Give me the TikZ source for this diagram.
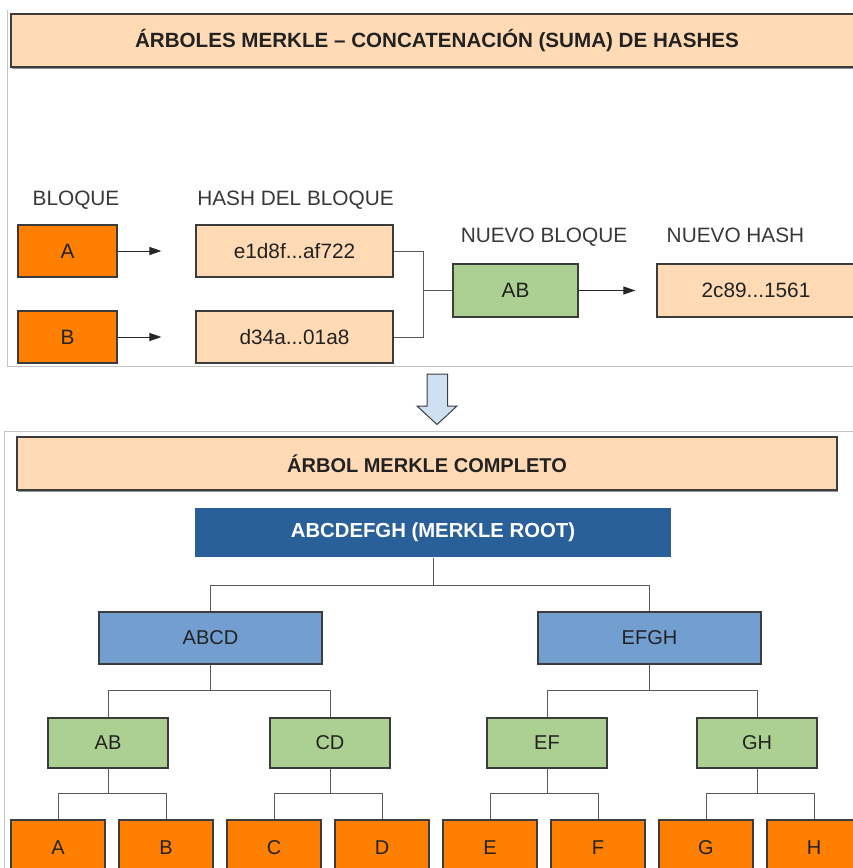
\documentclass[tikz,border=0pt]{standalone}
\usepackage{fontspec}
\setmainfont{Liberation Sans}
\usetikzlibrary{arrows.meta,shadows}
\definecolor{orangeC}{HTML}{FF8000}
\definecolor{peachC}{HTML}{FFDAB4}
\definecolor{greenC}{HTML}{ABD092}
\definecolor{rootC}{HTML}{2A6099}
\definecolor{midblueC}{HTML}{729FCF}
\definecolor{arrowC}{HTML}{CFE0F2}
\definecolor{borderC}{HTML}{3C3C3C}
\definecolor{lineC}{HTML}{5A5A5A}
\definecolor{panelC}{HTML}{C4C4C4}
\definecolor{txtC}{HTML}{222222}
\tikzset{
  box/.style={draw=borderC, line width=1.2pt, minimum height=52pt, inner sep=0pt,
              text=txtC, font=\fontsize{20.8}{24}\selectfont},
  lowbox/.style={box, font=\fontsize{20}{24}\selectfont},
  titlebox/.style={box, fill=peachC, minimum height=53pt,
                   drop shadow={shadow xshift=1pt, shadow yshift=-1.5pt, opacity=0.6, fill=black!70}},
  leaf/.style={lowbox, fill=orangeC, minimum width=94pt, minimum height=56pt},
  blk/.style={box, fill=orangeC, minimum width=99pt},
  hashbox/.style={box, fill=peachC, minimum width=197pt},
  grn/.style={lowbox, fill=greenC, minimum width=120pt, minimum height=50pt},
  half/.style={lowbox, fill=midblueC, minimum width=223pt},
  rootbox/.style={box, draw=none, fill=rootC, text=white, minimum width=476pt, minimum height=49pt,
                  font=\bfseries\fontsize{20.3}{24}\selectfont},
  lbl/.style={inner sep=0pt, anchor=base, text=txtC!90, font=\fontsize{20.8}{24}\selectfont},
  conn/.style={draw=lineC, line width=1pt},
  arr/.style={draw=black!85, line width=1pt, -{Triangle[length=12pt,width=8pt]}},
}
\begin{document}
\begin{tikzpicture}[x=1pt,y=-1pt]
\useasboundingbox (0,0) rectangle (853,868);
\clip (0,0) rectangle (853,868);
% panels
\draw[panelC, line width=1pt] (7,10) -- (7,366) -- (860,366);
\draw[panelC, line width=1pt] (4,875) -- (4,431) -- (860,431);
% top part
\node[titlebox, minimum width=852pt, font=\bfseries\fontsize{20.6}{24}\selectfont] (t1) at (437,40.5) {ÁRBOLES MERKLE – CONCATENACIÓN (SUMA) DE HASHES};
\node[lbl] (lb1) at (76,205) {BLOQUE};
\node[lbl] (lb2) at (295.5,205) {HASH DEL BLOQUE};
\node[lbl] (lb3) at (544,242.5) {NUEVO BLOQUE};
\node[lbl] (lb4) at (735.5,242.5) {NUEVO HASH};
\node[blk] (A) at (67.5,251) {A};
\node[blk] (B) at (67.5,337) {B};
\node[hashbox] (hA) at (294.5,251) {e1d8f...af722};
\node[hashbox] (hB) at (294.5,337) {d34a...01a8};
\node[box, fill=greenC, minimum width=125pt, minimum height=53pt] (nAB) at (515.5,290.5) {AB};
\node[box, fill=peachC, minimum width=198pt, minimum height=53pt] (nH) at (756,290.5) {2c89...1561};
\draw[arr, shorten >=34pt] (A) -- (hA);
\draw[arr, shorten >=34pt] (B) -- (hB);
\draw[arr, shorten >=21pt] (nAB) -- (nH);
\draw[conn] (hA.east) -- ++(30,0) |- (nAB.west);
\draw[conn] (hB.east) -- ++(30,0) |- (nAB.west);
% down arrow
\draw[fill=arrowC, draw=borderC, line width=1pt, line join=miter]
  (427,374) -- (447.5,374) -- (447.5,406) -- (457,406) -- (437,424.5) -- (417,406) -- (427,406) -- cycle;
% bottom part
\node[titlebox, minimum width=820pt, font=\bfseries\fontsize{20}{24}\selectfont] (t2) at (427,463.5) {ÁRBOL MERKLE COMPLETO};
\node[rootbox] (root) at (433,532.5) {ABCDEFGH (MERKLE ROOT)};
\node[half] (abcd) at (210.5,638) {ABCD};
\node[half] (efgh) at (649.5,638) {EFGH};
\node[grn] (ab) at (108,743) {AB};
\node[grn] (cd) at (330,743) {CD};
\node[grn] (ef) at (547,743) {EF};
\node[grn] (gh) at (757,743) {GH};
\node[leaf] (la) at (58,848) {A};
\node[leaf] (lb) at (166,848) {B};
\node[leaf] (lc) at (274,848) {C};
\node[leaf] (ld) at (382,848) {D};
\node[leaf] (le) at (490,848) {E};
\node[leaf] (lf) at (598,848) {F};
\node[leaf] (lg) at (706,848) {G};
\node[leaf] (lh) at (814,848) {H};
\draw[conn] (root.south) -- ++(0,28) -| (abcd.north);
\draw[conn] (root.south) -- ++(0,28) -| (efgh.north);
\draw[conn] (abcd.south) -- ++(0,26) -| (ab.north);
\draw[conn] (abcd.south) -- ++(0,26) -| (cd.north);
\draw[conn] (efgh.south) -- ++(0,26) -| (ef.north);
\draw[conn] (efgh.south) -- ++(0,26) -| (gh.north);
\draw[conn] (ab.south) -- ++(0,25) -| (la.north);
\draw[conn] (ab.south) -- ++(0,25) -| (lb.north);
\draw[conn] (cd.south) -- ++(0,25) -| (lc.north);
\draw[conn] (cd.south) -- ++(0,25) -| (ld.north);
\draw[conn] (ef.south) -- ++(0,25) -| (le.north);
\draw[conn] (ef.south) -- ++(0,25) -| (lf.north);
\draw[conn] (gh.south) -- ++(0,25) -| (lg.north);
\draw[conn] (gh.south) -- ++(0,25) -| (lh.north);
\end{tikzpicture}
\end{document}
